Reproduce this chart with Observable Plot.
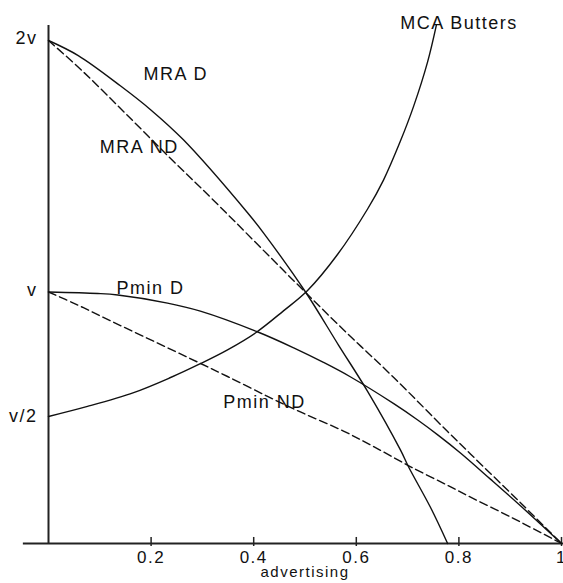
<!DOCTYPE html>
<html>
<head>
<meta charset="utf-8">
<script src="https://cdn.jsdelivr.net/npm/d3@7"></script>
<script src="https://cdn.jsdelivr.net/npm/@observablehq/plot@0.6"></script>
<style>
  html, body { margin: 0; padding: 0; background: #fff; overflow: hidden; }
</style>
</head>
<body>
<div id="chart"></div>
<script>
// ---- data (x = advertising, y in units of v) ----
const xTicks = [0.2, 0.4, 0.6, 0.8, 1];
const xTickLabels = ["0.2", "0.4", "0.6", "0.8", "1"];
const yTicks = [0.5, 1, 2];
const yTickLabels = ["v/2", "v", "2v"];

const mraD = [[0,2],[0.058,1.94],[0.14,1.82],[0.199,1.725],[0.263,1.605],[0.388,1.315],[0.419,1.235],[0.501,1.0],[0.565,0.79],[0.622,0.605],[0.686,0.372],[0.702,0.304],[0.745,0.142],[0.778,0]];
const mraND = [[0,2],[0.068,1.875],[0.15,1.71],[0.238,1.531],[0.322,1.364],[0.478,1.045],[0.575,0.85],[0.673,0.66],[0.778,0.445],[0.823,0.355],[0.92,0.162],[1,0]];
const pminD = [[0,1.0],[0.096,0.994],[0.135,0.988],[0.232,0.956],[0.296,0.924],[0.407,0.842],[0.478,0.778],[0.536,0.72],[0.589,0.662],[0.673,0.556],[0.719,0.492],[0.76,0.43],[0.803,0.36],[0.862,0.255],[0.92,0.15],[1,0]];
const pminND = [[0,1.0],[0.053,0.952],[0.111,0.895],[0.228,0.782],[0.29,0.722],[0.349,0.664],[0.427,0.585],[0.491,0.523],[0.575,0.447],[0.634,0.385],[0.706,0.305],[0.784,0.225],[0.817,0.19],[0.906,0.1],[1,0]];
const mcaButters = [[0,0.505],[0.076,0.545],[0.166,0.6],[0.238,0.66],[0.296,0.715],[0.349,0.77],[0.404,0.838],[0.458,0.925],[0.505,1.006],[0.563,1.148],[0.622,1.33],[0.653,1.445],[0.686,1.6],[0.712,1.74],[0.739,1.915],[0.756,2.06]];

const curveLabels = [
  {text: "MRA D", x: 0.248, y: 1.865},
  {text: "MRA ND", x: 0.177, y: 1.575},
  {text: "Pmin D", x: 0.199, y: 1.014},
  {text: "Pmin ND", x: 0.421, y: 0.561},
  {text: "MCA Butters", x: 0.80, y: 2.07}
];

const xAxisExtent = [-0.049, 1.01];
const yAxisTop = 2.06;
const xTickExtent = [-0.012, 0.024];

const ink = "#111";
const lineOpts = {x: d => d[0], y: d => d[1], stroke: ink, strokeWidth: 1.4, curve: "catmull-rom"};
const dashOpts = {...lineOpts, strokeDasharray: "8,4"};

const chart = Plot.plot({
  width: 563,
  height: 583,
  marginLeft: 48,
  marginRight: 2,
  marginTop: 40,
  marginBottom: 40,
  x: {domain: [0, 1]},
  y: {domain: [0, 2]},
  style: {fontFamily: "'Liberation Sans', Arial, sans-serif", fontSize: "18px", letterSpacing: "1.5px", color: ink, background: "#fff", overflow: "visible"},
  marks: [
    // axis lines
    Plot.ruleY([0], {x1: xAxisExtent[0], x2: xAxisExtent[1], stroke: "#222", strokeWidth: 2}),
    Plot.ruleX([0], {y1: 0, y2: yAxisTop, stroke: "#222", strokeWidth: 2}),
    // x tick marks crossing the axis
    Plot.ruleX(xTicks, {y1: xTickExtent[0], y2: xTickExtent[1], stroke: "#222", strokeWidth: 1.5}),
    // x tick labels
    Plot.axisX({ticks: xTicks, tickSize: 0, tickPadding: 7, tickFormat: d => xTickLabels[xTicks.indexOf(d)], fontSize: 17, label: null}),
    // y tick labels
    Plot.axisY({ticks: yTicks, tickSize: 0, tickPadding: 11, dy: -2, tickFormat: d => yTickLabels[yTicks.indexOf(d)], fontSize: 18, label: null}),
    // axis title
    Plot.text(["advertising"], {frameAnchor: "bottom", dy: 33, fontSize: 15, fill: ink}),
    // curves
    Plot.line(mraND, dashOpts),
    Plot.line(pminND, dashOpts),
    Plot.line(mraD, lineOpts),
    Plot.line(pminD, lineOpts),
    Plot.line(mcaButters, lineOpts),
    // curve labels
    Plot.text(curveLabels, {x: "x", y: "y", text: "text", fontSize: 18, fill: ink})
  ]
});
document.getElementById("chart").appendChild(chart);
</script>
</body>
</html>
